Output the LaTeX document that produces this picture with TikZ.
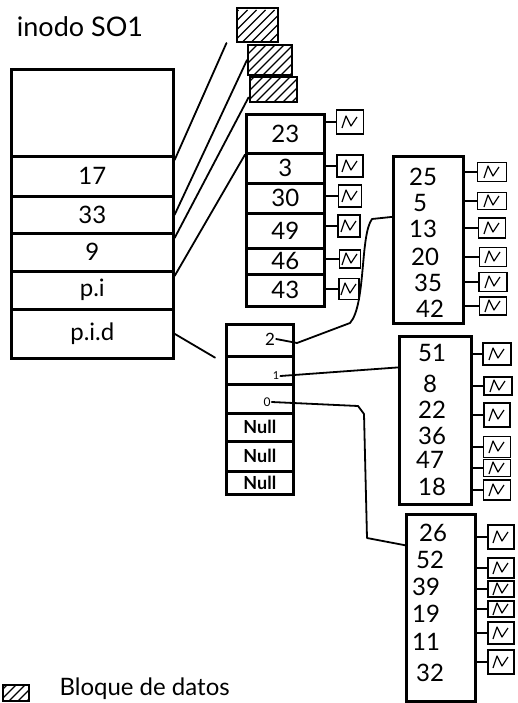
\documentclass[tikz,border=0pt]{standalone}
\usepackage{fontspec}
\setmainfont{Lato}
\usetikzlibrary{calc}
\begin{document}
\begin{tikzpicture}[x=1pt,y=-1pt,
  box/.style={draw, line width=2.6pt, inner sep=0pt, anchor=north west},
  sz/.style 2 args={minimum width=#1pt, minimum height=#2pt},
  lab/.style={font=\fontsize{24}{24}\selectfont},
  small/.style={font=\fontsize{14}{14}\selectfont, inner sep=1pt},
  nul/.style={font=\bfseries\fontsize{18}{18}\selectfont},
  wire/.style={line width=1.8pt, line cap=round, line join=round},
  blk/.style={draw, line width=1.8pt, inner sep=0pt,
    path picture={\draw[line width=1.2pt, line join=round]
      ([xshift=-8pt,yshift=-6pt]path picture bounding box.center) --
      ([xshift=-4pt,yshift=6pt]path picture bounding box.center) --
      ([xshift=1pt,yshift=-4pt]path picture bounding box.center) --
      ([xshift=7pt,yshift=5pt]path picture bounding box.center);}},
  hblk/.style={draw, line width=2pt, inner sep=0pt,
    path picture={\foreach \d in {-30,-21,...,45}
      \draw[line width=1.4pt] ([xshift=\d pt]path picture bounding box.south west) -- ++(32pt,32pt);}},
]
\useasboundingbox (0,0) rectangle (518,703);
\fill[white] (0,0) rectangle (518,703);

% title
\node[font=\fontsize{27}{27}\selectfont] (title) at (80,27) {inodo SO1};

% inode
\node[box, sz={162}{87}] (i0) at (10,68) {};
\node[box, lab, sz={162}{40}] (i17) at (10,155) {17};
\node[box, lab, sz={162}{37}] (i33) at (10,195) {33};
\node[box, lab, sz={162}{38}] (i9) at (10,232) {9};
\node[box, lab, sz={162}{38}] (ipi) at (10,270) {p.i};
\node[box, lab, sz={162}{49}] (ipid) at (10,308) {p.i.d};

% direct data blocks
\node[hblk, sz={41}{34}] (t1) at (257,25) {};
\node[hblk, sz={44}{30}] (t2) at (270,60) {};
\node[hblk, sz={47}{25}] (t3) at (273,90) {};

% single indirect block
\node[box, lab, sz={78}{39}] (a23) at (245,113) {23};
\node[box, lab, sz={78}{30}] (a3) at (245,152) {3};
\node[box, lab, sz={78}{30}] (a30) at (245,182) {30};
\node[box, lab, sz={78}{35}] (a49) at (245,212) {49};
\node[box, lab, sz={78}{26}] (a46) at (245,247) {46};
\node[box, lab, sz={78}{32}] (a43) at (245,273) {43};

\node[blk, sz={27}{24}] (b23) at (350,122) {};
\node[blk, sz={26}{22}] (b3) at (350,166) {};
\node[blk, sz={23}{22}] (b30) at (350,196) {};
\node[blk, sz={22}{22}] (b49) at (349,226) {};
\node[blk, sz={21}{18}] (b46) at (350,259) {};
\node[blk, sz={20}{21}] (b43) at (349,289) {};
\foreach \r/\b in {a23/b23,a3/b3,a30/b30,a49/b49,a46/b46,a43/b43}
  \draw[wire] (\r.east |- \b.west) -- (\b.west);

% double indirect block
\node[box, sz={67}{32}] (dr1) at (225,323) {};
\node[box, sz={67}{28}] (dr2) at (225,355) {};
\node[box, sz={67}{29}] (dr3) at (225,383) {};
\node[box, nul, sz={67}{28}] (dn1) at (225,412) {Null};
\node[box, nul, sz={67}{30}] (dn2) at (225,440) {Null};
\node[box, nul, sz={67}{23}] (dn3) at (225,470) {Null};
\node[small, font=\fontsize{17}{17}\selectfont] (p2) at (270,339) {2};
\node[small, font=\fontsize{11}{11}\selectfont] (p1) at (276,376) {1};
\node[small, font=\fontsize{12}{12}\selectfont] (p0) at (267,402) {0};

% right indirect blocks
\node[box, sz={70}{167}] (rb1) at (392,155) {};
\node[lab] (l25) at (423,177) {25};
\node[lab] (l5) at (420,203) {5};
\node[lab] (l13) at (423,229) {13};
\node[lab] (l20) at (425,257) {20};
\node[lab] (l35) at (428,283) {35};
\node[lab] (l42) at (430,309) {42};
\node[blk, sz={29}{19}] (c25) at (492,172) {};
\node[blk, sz={29}{17}] (c5) at (492,201) {};
\node[blk, sz={27}{20}] (c13) at (492,228) {};
\node[blk, sz={27}{19}] (c20) at (493,257) {};
\node[blk, sz={28}{19}] (c35) at (493,282) {};
\node[blk, sz={27}{18}] (c42) at (493,306) {};
\foreach \b in {c25,c5,c13,c20,c35,c42}
  \draw[wire] (rb1.east |- \b.west) -- (\b.west);

\node[box, sz={72}{168}] (rb2) at (398,335) {};
\node[lab] (l51) at (432,353) {51};
\node[lab] (l8) at (430,384) {8};
\node[lab] (l22) at (432,410) {22};
\node[lab] (l36) at (432,436) {36};
\node[lab] (l47) at (430,460) {47};
\node[lab] (l18) at (432,487) {18};
\node[blk, sz={28}{22}] (e51) at (497,354) {};
\node[blk, sz={28}{18}] (e8) at (498,386) {};
\node[blk, sz={26}{24}] (e22) at (497,415) {};
\node[blk, sz={27}{21}] (e36) at (497,447) {};
\node[blk, sz={27}{17}] (e47) at (497,468) {};
\node[blk, sz={27}{20}] (e18) at (497,490) {};
\foreach \b in {e51,e8,e22,e36,e47,e18}
  \draw[wire] (rb2.east |- \b.west) -- (\b.west);

\node[box, sz={69}{187}] (rb3) at (405,513) {};
\node[lab] (l26) at (433,533) {26};
\node[lab] (l52) at (430,560) {52};
\node[lab] (l39) at (426,587) {39};
\node[lab] (l19) at (426,614) {19};
\node[lab] (l11) at (426,642) {11};
\node[lab] (l32) at (430,673) {32};
\node[blk, sz={26}{24}] (f26) at (501,537) {};
\node[blk, sz={26}{20}] (f52) at (501,568) {};
\node[blk, sz={26}{16}] (f39) at (501,589) {};
\node[blk, sz={26}{16}] (f19) at (501,609) {};
\node[blk, sz={26}{22}] (f11) at (501,633) {};
\node[blk, sz={26}{24}] (f32) at (501,662) {};
\foreach \b in {f26,f52,f39,f19,f11,f32}
  \draw[wire] (rb3.east |- \b.west) -- (\b.west);

% inode connectors
\draw[wire] ([yshift=-5pt]i17.north east) -- ([xshift=-9pt]t1.south west);
\draw[wire] (i33.east) -- (t2.west);
\draw[wire] ([yshift=-6pt]i9.north east) -- ([yshift=6pt]t3.south west);
\draw[wire] ([yshift=-6pt]ipi.north east) -- (a23.south west);
\draw[wire] (ipid.east) -- ([xshift=-10pt]dr1.south west);

% double indirect connectors
\draw[wire] (p2.east) -- (297,343) -- (350,323)
  .. controls (366,305) and (360,235) .. (372,219)
  -- ($(rb1.north west)!0.365!(rb1.south west)$);
\draw[wire] (p1.east) -- ($(rb2.north west)!0.19!(rb2.south west)$);
\draw[wire] (p0.east) -- (358,406) -- (364,414) -- (367,538)
  -- ($(rb3.north west)!0.17!(rb3.south west)$);

% legend
\node[hblk, sz={26}{16}] (lg) at (16,693) {};
\node[anchor=west, font=\fontsize{24}{24}\selectfont] (lgt) at (56,689) {Bloque de datos};
\end{tikzpicture}
\end{document}
